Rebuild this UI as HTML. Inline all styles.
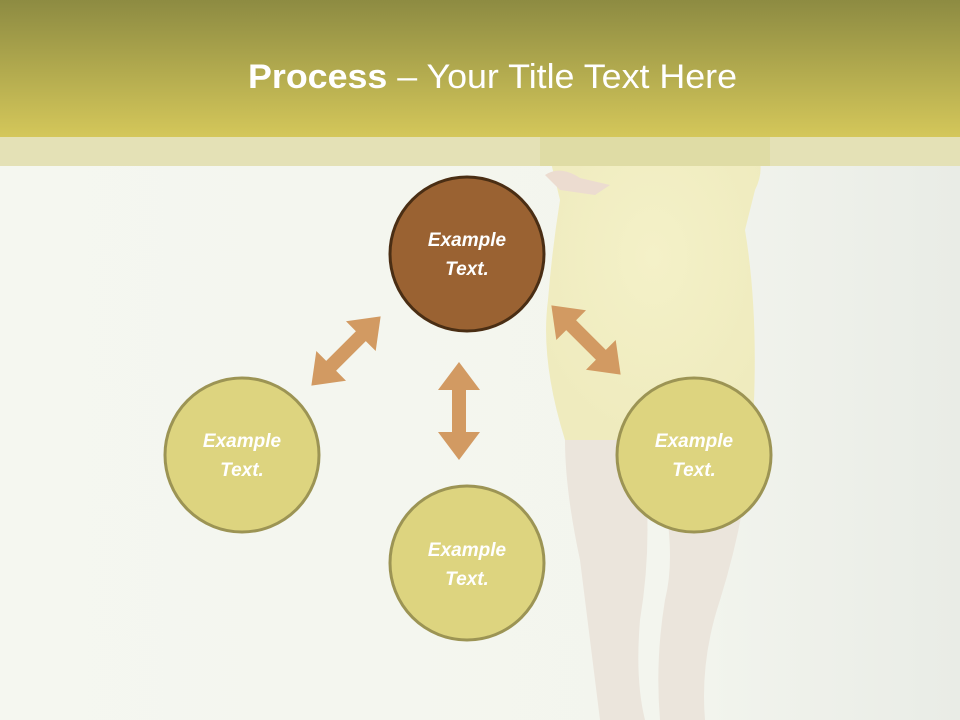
<!DOCTYPE html>
<html><head><meta charset="utf-8"><style>
html,body{margin:0;padding:0;width:960px;height:720px;overflow:hidden;background:#f4f6ef}
</style></head><body>
<svg width="960" height="720" viewBox="0 0 960 720" xmlns="http://www.w3.org/2000/svg">
<defs>
<linearGradient id="hd" x1="0" y1="0" x2="0" y2="1">
<stop offset="0" stop-color="#8d8b42"/><stop offset="1" stop-color="#d4c75a"/>
</linearGradient>
<linearGradient id="bg" x1="0" y1="0" x2="1" y2="0">
<stop offset="0" stop-color="#f5f7f0"/><stop offset="0.7" stop-color="#f3f5ee"/><stop offset="1" stop-color="#e9ece6"/>
</linearGradient>
<radialGradient id="dr" cx="0.5" cy="0.4" r="0.6">
<stop offset="0" stop-color="#f4f1c8"/><stop offset="1" stop-color="#efebbe"/>
</radialGradient>
<polygon id="arr" points="0,-49 21,-21 7,-21 7,21 21,21 0,49 -21,21 -7,21 -7,-21 -21,-21" fill="#d29a62"/>
</defs>
<rect width="960" height="720" fill="url(#bg)"/>
<path d="M548,150 Q560,135 600,135 L745,135 Q770,160 755,190 L745,230 Q760,320 752,440 L565,440 Q540,360 548,300 Q552,250 560,200 Z" fill="url(#dr)"/>
<path d="M565,440 L640,440 Q655,530 640,620 Q635,680 645,720 L600,720 Q590,640 580,560 Q565,490 565,440 Z" fill="#ebe5dc"/>
<path d="M650,440 L752,440 Q745,520 720,600 Q700,660 705,720 L660,720 Q655,660 665,600 Q680,540 650,440 Z" fill="#ebe5dc"/>
<path d="M545,175 Q560,165 580,178 L610,185 L595,195 L560,190 Z" fill="#ecdcd0"/>
<rect x="0" y="0" width="960" height="137" fill="url(#hd)"/>
<rect x="0" y="137" width="960" height="29" fill="#e4e1b6"/>
<rect x="540" y="137" width="230" height="29" fill="#dcd89a" opacity="0.6"/>
<text x="248" y="88" font-family="Liberation Sans, sans-serif" font-size="34" fill="#fff" textLength="489" lengthAdjust="spacingAndGlyphs"><tspan font-weight="bold">Process</tspan> – Your Title Text Here</text>
<use href="#arr" transform="translate(459,411)"/>
<use href="#arr" transform="translate(346,351) rotate(45)"/>
<use href="#arr" transform="translate(586,340) rotate(-45)"/>
<g font-family="Liberation Sans, sans-serif" font-size="19" font-weight="bold" font-style="italic" fill="#fff" text-anchor="middle">
<circle cx="467" cy="254" r="77" fill="#9a6232" stroke="#4a2e14" stroke-width="3"/>
<text x="467" y="246">Example</text><text x="467" y="275">Text.</text>
<circle cx="242" cy="455" r="77" fill="#ddd47f" stroke="#9c9454" stroke-width="3"/>
<text x="242" y="447">Example</text><text x="242" y="476">Text.</text>
<circle cx="694" cy="455" r="77" fill="#ddd47f" stroke="#9c9454" stroke-width="3"/>
<text x="694" y="447">Example</text><text x="694" y="476">Text.</text>
<circle cx="467" cy="563" r="77" fill="#ddd47f" stroke="#9c9454" stroke-width="3"/>
<text x="467" y="556">Example</text><text x="467" y="585">Text.</text>
</g>
</svg>
</body></html>
